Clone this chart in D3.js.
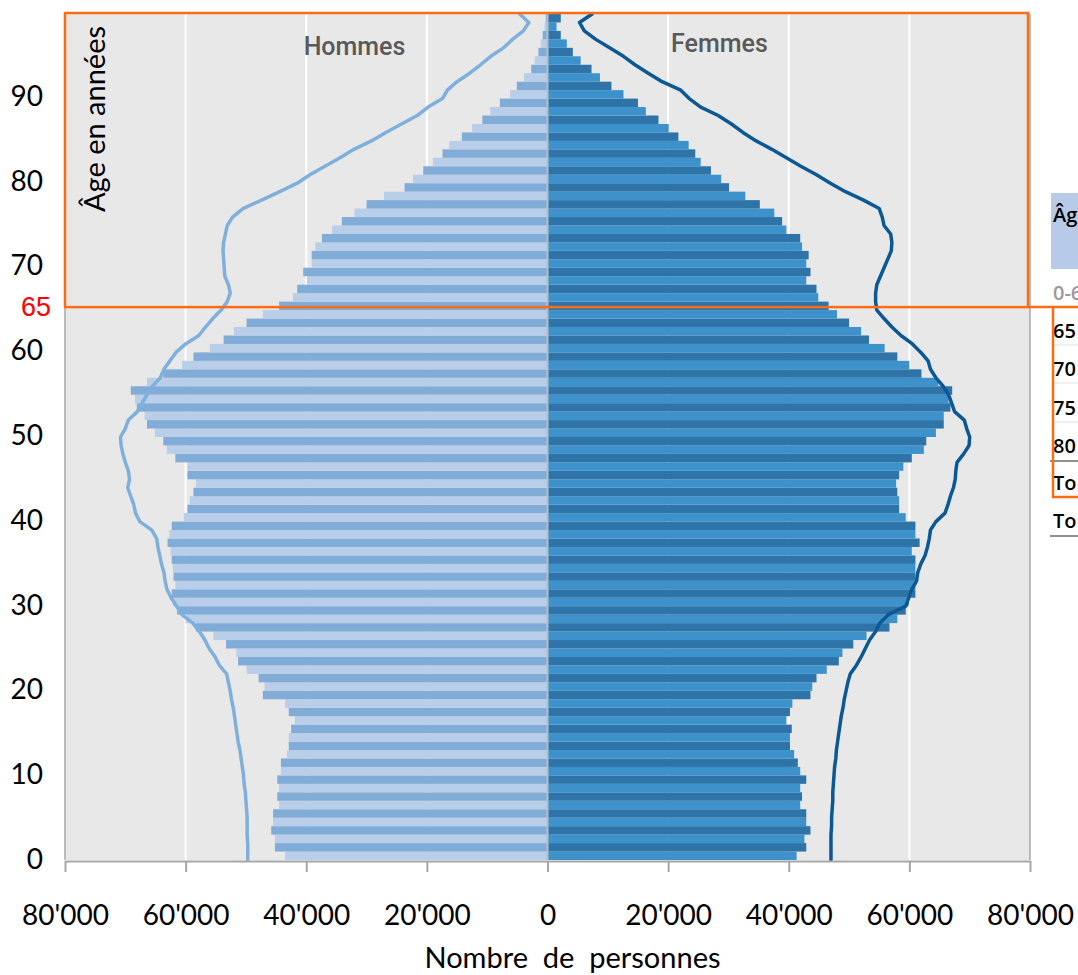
<!DOCTYPE html>
<html><head><meta charset="utf-8">
<script src="https://cdn.jsdelivr.net/npm/d3@7"></script>
<style>body{margin:0;background:#fff}svg{display:block}</style>
</head><body>
<svg id="c" width="1078" height="975"></svg>
<script>
// ---- data (thousands of persons) ----
const ages = d3.range(0, 100);
const male = [
43.5,45.2,45.2,45.8,45.5,45.5,44.5,44.8,44.5,44.8,
44.2,44.2,43.2,42.9,42.9,42.5,41.9,42.9,43.5,47.2,
46.9,47.9,49.9,51.3,51.6,53.3,55.4,58.3,60.0,61.4,
62.1,62.3,61.7,62.0,62.1,62.3,62.5,63.0,62.7,62.3,
60.3,59.7,59.3,58.7,58.3,59.7,59.7,61.7,63.1,63.7,
65.1,66.4,66.8,68.1,68.4,69.1,66.4,63.7,60.6,58.7,
56.0,53.7,52.0,49.9,47.2,44.5,42.2,41.5,39.9,40.5,
39.1,39.1,38.5,37.4,35.7,34.1,32.0,30.0,27.1,23.7,
22.3,20.6,19.0,17.4,16.3,14.2,12.5,10.8,9.5,7.9,
6.2,5.1,3.9,2.7,2.1,1.5,1.1,0.8,0.5,0.3];
const female = [
41.3,42.9,42.6,43.6,42.9,42.9,41.9,42.2,41.9,42.9,
41.9,41.5,40.9,40.2,40.2,40.5,39.6,40.2,40.6,43.6,
43.9,44.6,46.3,48.3,48.9,50.7,52.9,56.7,58.0,59.4,
59.9,61.0,61.0,61.0,61.0,61.0,60.4,61.7,61.0,61.0,
59.4,58.3,58.3,58.0,57.8,58.3,59.0,60.4,62.4,62.8,
64.4,65.7,65.7,66.8,66.5,67.1,64.8,62.0,60.0,58.0,
55.9,53.3,52.0,50.0,48.0,46.6,44.9,44.6,42.9,43.6,
42.9,43.3,42.2,41.9,39.6,38.9,37.6,35.2,32.8,30.1,
28.8,27.1,25.4,24.5,23.4,21.7,20.1,18.4,16.3,15.0,
12.6,10.6,8.7,7.3,5.5,4.2,3.2,2.2,1.5,2.2];
const lineAges = d3.range(0, 101);
const maleLine = [
49.7,49.7,49.7,49.8,49.8,49.8,49.9,50.0,50.1,50.3,
50.4,50.6,50.8,51.0,51.3,51.5,51.7,51.9,52.1,52.4,
52.6,52.9,53.2,54.4,55.1,56.1,56.8,57.7,58.8,60.6,
61.5,62.4,63.1,63.4,63.6,64.0,64.3,64.6,64.8,65.6,
67.6,68.3,68.6,69.1,69.6,69.3,69.5,70.0,70.4,70.7,
70.8,70.0,69.5,68.0,67.2,66.4,65.5,64.2,63.6,62.6,
61.6,60.0,57.8,56.7,55.5,54.1,53.1,52.6,52.9,53.5,
53.6,53.7,53.8,53.7,53.4,53.1,52.2,50.5,47.4,44.4,
41.5,39.4,36.9,34.4,32.1,29.2,26.8,24.2,21.6,19.8,
17.4,16.6,15.0,12.9,11.1,9.4,7.3,5.8,4.0,3.1,
4.6];
const femaleLine = [
47.0,47.0,47.0,47.0,47.1,47.1,47.2,47.3,47.3,47.4,
47.5,47.6,47.8,47.9,48.1,48.3,48.5,48.7,49.0,49.2,
49.5,49.8,50.2,51.2,52.0,52.7,53.4,54.4,55.1,56.5,
59.4,59.9,60.4,61.2,61.4,61.9,62.6,63.0,63.3,63.5,
64.4,65.9,66.4,66.8,67.3,67.6,67.7,67.9,69.0,69.9,
70.0,69.5,69.1,67.5,67.0,66.5,65.6,64.4,63.5,63.1,
61.9,60.5,58.6,57.1,55.8,54.6,54.4,54.4,54.6,55.2,
55.8,56.4,57.0,57.1,56.9,55.8,55.5,55.0,52.4,49.4,
46.9,44.6,42.0,39.6,37.2,34.6,32.4,30.5,28.3,25.4,
23.5,22.1,19.0,16.7,14.5,12.6,10.3,8.0,6.1,5.3,
7.4];
const xTicks = [-80, -60, -40, -20, 0, 20, 40, 60, 80];
const yTicks = [0, 10, 20, 30, 40, 50, 60, 70, 80, 90];
const highlightAge = 65;
const sexLabels = ["Hommes", "Femmes"];
const tableHeader = "Âg";
const tableFirstRow = "0-6";
const tableRows = ["65", "70", "75", "80", "To", "To"];

// ---- drawing ----
const svg = d3.select("#c");
const x = d3.scaleLinear().domain([-80, 80]).range([65, 1030]);
const y = d3.scaleLinear().domain([0, 100]).range([860, 14]);
const fmt = d3.formatLocale({decimal: ".", thousands: "'", grouping: [3], currency: ["", ""]}).format(",");
const tickFont = "Lato, 'Open Sans', sans-serif";

svg.append("rect").attr("x", x(-80)).attr("y", y(100)).attr("width", x(80) - x(-80))
  .attr("height", y(0) - y(100)).attr("fill", "#e8e8e8");

svg.append("g").selectAll("line").data(xTicks.filter(d => d !== 0 && Math.abs(d) < 80)).join("line")
  .attr("x1", d => x(d)).attr("x2", d => x(d)).attr("y1", y(100)).attr("y2", y(0))
  .attr("stroke", "#ffffff").attr("stroke-width", 2);

const maleCol = ["#b8cee9", "#82acd8"];
const femaleCol = ["#3e92cc", "#2e74a8"];
svg.append("g").selectAll("rect").data(ages).join("rect")
  .attr("x", a => x(-male[a])).attr("width", a => x(0) - x(-male[a]))
  .attr("y", a => y(a + 1)).attr("height", a => y(a) - y(a + 1))
  .attr("fill", a => maleCol[a % 2]);
svg.append("g").selectAll("rect").data(ages).join("rect")
  .attr("x", x(0)).attr("width", a => x(female[a]) - x(0))
  .attr("y", a => y(a + 1)).attr("height", a => y(a) - y(a + 1))
  .attr("fill", a => femaleCol[a % 2]);

// zero line
svg.append("line").attr("x1", x(0)).attr("x2", x(0)).attr("y1", y(100)).attr("y2", y(0))
  .attr("stroke", "#b5bec8").attr("stroke-width", 2);

// frame sides
svg.append("g").selectAll("line").data([-80, 80]).join("line")
  .attr("x1", d => x(d)).attr("x2", d => x(d)).attr("y1", y(100)).attr("y2", y(0))
  .attr("stroke", "#a9a9a9").attr("stroke-width", 1.5);

// lines
const mLine = d3.line().x((v) => x(-v)).y((v, i) => y(lineAges[i]));
const fLine = d3.line().x((v) => x(v)).y((v, i) => y(lineAges[i]));
svg.append("path").attr("d", mLine(maleLine)).attr("fill", "none").attr("stroke", "#7fb0dd")
  .attr("stroke-width", 3.5).attr("stroke-linejoin", "round").attr("stroke-linecap", "round");
svg.append("path").attr("d", fLine(femaleLine)).attr("fill", "none").attr("stroke", "#0b5894")
  .attr("stroke-width", 3.5).attr("stroke-linejoin", "round").attr("stroke-linecap", "round");

// x axis
const ax = svg.append("g").attr("transform", `translate(0,${y(0) + 1})`)
  .call(d3.axisBottom(x).tickValues(xTicks).tickSize(11).tickSizeOuter(0).tickPadding(33)
    .tickFormat(d => fmt(Math.abs(d) * 1000)));
ax.select(".domain").attr("stroke", "#a6a6a6").attr("stroke-width", 2);
ax.selectAll(".tick line").attr("stroke", "#a6a6a6").attr("stroke-width", 2);
ax.selectAll(".tick text").attr("font-family", tickFont).attr("font-size", 28).attr("fill", "#000");

svg.append("text").attr("x", x(0) + 25).attr("y", 968).attr("text-anchor", "middle")
  .attr("font-family", tickFont).attr("font-size", 29).style("white-space", "pre")
  .text("Nombre  de  personnes");

// y labels
svg.append("g").selectAll("text").data(yTicks).join("text")
  .attr("x", 43).attr("y", d => y(d) - 2 - d * 0.02).attr("text-anchor", "end").attr("dominant-baseline", "central")
  .attr("font-family", tickFont).attr("font-size", 28).text(d => d);
svg.append("text").attr("x", 51).attr("y", y(highlightAge) - 3).attr("text-anchor", "end")
  .attr("dominant-baseline", "central").attr("font-family", "'Liberation Sans', Arial, sans-serif")
  .attr("font-size", 27).attr("fill", "#ff0000").text(highlightAge);

svg.append("text").attr("transform", "translate(93,119) rotate(-90)").attr("text-anchor", "middle")
  .attr("dominant-baseline", "central").attr("font-family", tickFont).attr("font-size", 29)
  .text("Âge en années");

// sex labels
svg.append("text").attr("x", x(-32)).attr("y", 55).attr("text-anchor", "middle")
  .attr("font-family", "Roboto, sans-serif").attr("font-weight", 500).attr("font-size", 25)
  .attr("fill", "#595959").text(sexLabels[0]);
svg.append("text").attr("x", x(28.5)).attr("y", 52).attr("text-anchor", "middle")
  .attr("font-family", "Roboto, sans-serif").attr("font-weight", 500).attr("font-size", 25)
  .attr("fill", "#595959").text(sexLabels[1]);

// table (partially visible)
const tf = "'Open Sans', sans-serif";
svg.append("rect").attr("x", 1051).attr("y", 193).attr("width", 30).attr("height", 76).attr("fill", "#b7cbe8");
svg.append("text").attr("x", 1053).attr("y", 222).attr("font-family", tf).attr("font-weight", 600)
  .attr("font-size", 20).text(tableHeader);
svg.append("text").attr("x", 1053).attr("y", 300).attr("font-family", tf).attr("font-weight", 600)
  .attr("font-size", 20).attr("fill", "#9a9a9a").text(tableFirstRow);
const rowY = [331, 369, 408, 446, 483, 521];
svg.append("g").selectAll("text").data(tableRows).join("text")
  .attr("x", 1053).attr("y", (d, i) => rowY[i] + 7).attr("font-family", tf).attr("font-weight", 600)
  .attr("font-size", 20).text(d => d);
[345, 383, 422].forEach(v => svg.append("line").attr("x1", 1052).attr("x2", 1078).attr("y1", v).attr("y2", v)
  .attr("stroke", "#e0e0e0").attr("stroke-width", 1));
[461, 536].forEach(v => svg.append("line").attr("x1", 1050).attr("x2", 1078).attr("y1", v).attr("y2", v)
  .attr("stroke", "#6d6d6d").attr("stroke-width", 1.5));

// orange highlight
const orange = "#fb6d14";
svg.append("rect").attr("x", x(-80)).attr("y", 13).attr("width", 1028 - x(-80)).attr("height", y(highlightAge) - 3 - 13)
  .attr("fill", "none").attr("stroke", orange).attr("stroke-width", 2.5);
svg.append("path").attr("d", `M1028,${y(highlightAge) - 3}H1078M1053,${y(highlightAge) - 3}V497H1078`)
  .attr("fill", "none").attr("stroke", orange).attr("stroke-width", 2.5);
</script>
</body></html>
